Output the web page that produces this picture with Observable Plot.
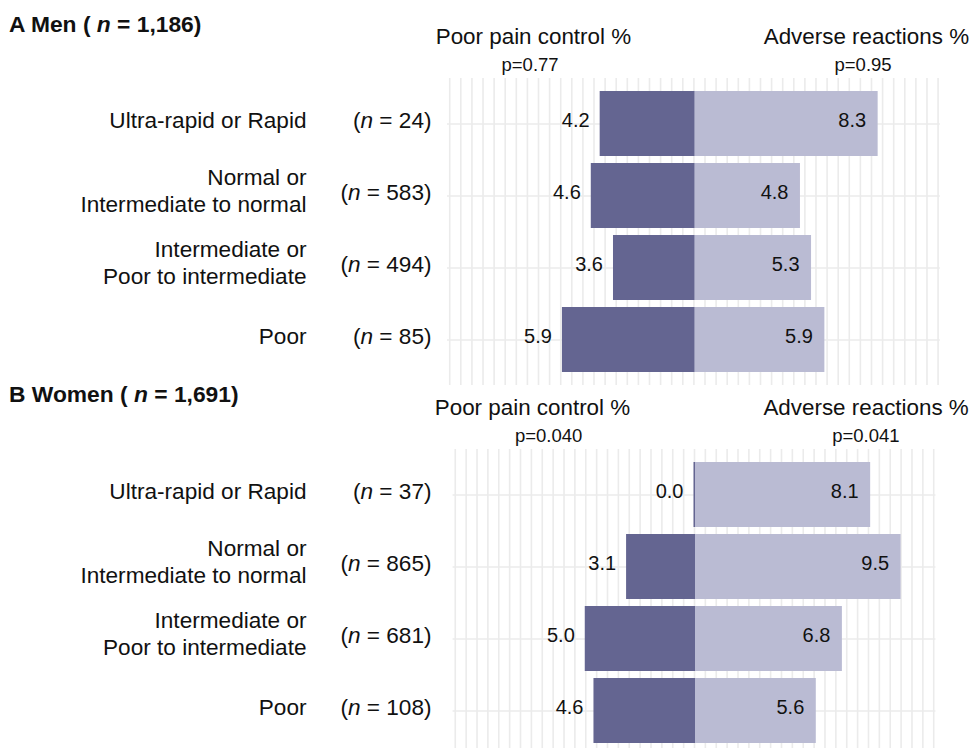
<!DOCTYPE html>
<html>
<head>
<meta charset="utf-8">
<script src="https://cdn.jsdelivr.net/npm/d3@7"></script>
<script src="https://cdn.jsdelivr.net/npm/@observablehq/plot@0.6"></script>
<style>
  html, body { margin: 0; padding: 0; background: #fff; }
  #wrap { position: relative; width: 971px; height: 748px; overflow: hidden; background: #fff;
          font-family: "Liberation Sans", Arial, Helvetica, sans-serif; color: #111; }
  .title { position: absolute; left: 9px; font-weight: bold; font-size: 22.8px; line-height: 22px; white-space: nowrap; }
  .panel { position: absolute; left: 0; }
  .panel svg { display: block; }
</style>
</head>
<body>
<div id="wrap">
  <div class="title" style="top:13px">A Men ( <i>n</i> = 1,186)</div>
  <div class="panel" id="men" style="top:0px"></div>
  <div class="title" style="top:383px">B Women ( <i>n</i> = 1,691)</div>
  <div class="panel" id="women" style="top:371px"></div>
</div>
<script>
// ---- data ----
const genotypes = [
  "Ultra-rapid or Rapid",
  "Normal or\nIntermediate to normal",
  "Intermediate or\nPoor to intermediate",
  "Poor"
];
const headers = ["Poor pain control %", "Adverse reactions %"];

const menN = [24, 583, 494, 85];
const menPoorPain = [4.2, 4.6, 3.6, 5.9];
const menAdverse = [8.3, 4.8, 5.3, 5.9];
const menP = ["p=0.77", "p=0.95"];

const womenN = [37, 865, 681, 108];
const womenPoorPain = [0.0, 3.1, 5.0, 4.6];
const womenAdverse = [8.1, 9.5, 6.8, 5.6];
const womenP = ["p=0.040", "p=0.041"];

// ---- style ----
const FONT = '"Liberation Sans", Arial, Helvetica, sans-serif';
const DARK = "#646591";
const LIGHT = "#babbd3";
const GRID = "#ebebeb";
const fmt = d3.format(".1f");

function makePanel({n, pain, adverse, pvals, marginLeft, marginRight, headerX, pX}) {
  const rows = genotypes.map((g, i) => ({g, n: n[i], pain: pain[i], adverse: adverse[i]}));
  const single = rows.filter(d => !d.g.includes("\n"));
  const multi = rows.filter(d => d.g.includes("\n"));
  const labelRight = 306, nRight = 431;
  const LBL = 22.6, DY = -3.5;
  const chart = Plot.plot({
    width: 971,
    height: 390,
    marginTop: 78,
    marginBottom: 5,
    marginLeft,
    marginRight,
    style: {fontFamily: FONT, color: "#111", background: "transparent", overflow: "visible"},
    x: {domain: [-11.1, 11.1], axis: null},
    y: {domain: genotypes, axis: null, paddingInner: 0.1, paddingOuter: 0.158},
    marks: [
      Plot.ruleX(d3.range(-11, 11.001, 0.5), {stroke: GRID, strokeWidth: 1.6}),
      Plot.ruleY(genotypes, {y: d => d, stroke: GRID, strokeWidth: 1.6}),
      Plot.barX(rows, {y: "g", x1: 0, x2: "adverse", fill: LIGHT}),
      Plot.barX(rows, {y: "g", x1: 0, x2: d => -d.pain, fill: DARK, insetLeft: -0.5, insetRight: -1}),
      Plot.text(rows, {y: "g", x: d => -d.pain, text: d => fmt(d.pain), textAnchor: "end", dx: -11, dy: DY, fontSize: 20, fill: "#111"}),
      Plot.text(rows, {y: "g", x: "adverse", text: d => fmt(d.adverse), textAnchor: "end", dx: -12, dy: DY, fontSize: 20, fill: "#111"}),
      Plot.text(single, {y: "g", frameAnchor: "left", text: "g", textAnchor: "end", dx: labelRight - marginLeft, dy: DY, fontSize: LBL, fill: "#111"}),
      Plot.text(multi, {y: "g", frameAnchor: "left", text: "g", textAnchor: "end", dx: labelRight - marginLeft, dy: DY - 2.5, lineHeight: 1.17, fontSize: LBL, fill: "#111"}),
      Plot.text(rows, {y: "g", frameAnchor: "left", text: d => `(n = ${d.n})`, textAnchor: "end", dx: nRight - marginLeft, dy: DY, fontSize: LBL, fill: "#111"}),
      Plot.text(headers, {x: headerX, frameAnchor: "top", text: d => d, lineAnchor: "bottom", dy: -35, fontSize: 22.4, fill: "#111"}),
      Plot.text(pvals, {x: pX, frameAnchor: "top", text: d => d, lineAnchor: "bottom", dy: -8, fontSize: 18.5, fill: "#111"})
    ]
  });
  // italicise the "n" in the sample-size labels
  chart.querySelectorAll("text").forEach(t => {
    const m = /^\(n = (\d+)\)$/.exec(t.textContent);
    if (m) t.innerHTML = `(<tspan font-style="italic">n</tspan> = ${m[1]})`;
  });
  return chart;
}

document.getElementById("men").appendChild(makePanel({
  n: menN, pain: menPoorPain, adverse: menAdverse, pvals: menP,
  marginLeft: 447, marginRight: 31.2,
  headerX: [-7.23, 7.77], pX: [-7.38, 7.62]
}));
document.getElementById("women").appendChild(makePanel({
  n: womenN, pain: womenPoorPain, adverse: womenAdverse, pvals: womenP,
  marginLeft: 452.6, marginRight: 35.6,
  headerX: [-7.45, 7.89], pX: [-6.71, 7.88]
}));
</script>
</body>
</html>
